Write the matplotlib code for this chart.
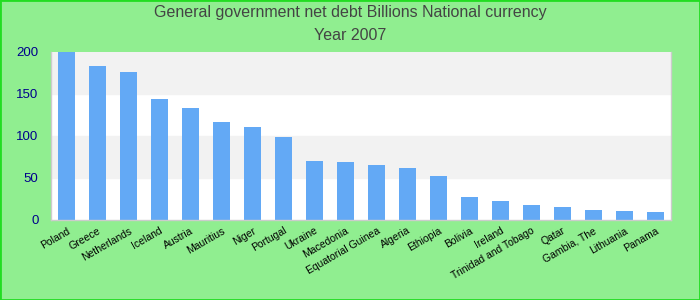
import matplotlib.pyplot as plt
import matplotlib.transforms as mtransforms
import numpy as np

plt.rcParams['font.family'] = ['Liberation Sans', 'DejaVu Sans']

countries = ["Poland", "Greece", "Netherlands", "Iceland", "Austria", "Mauritius",
             "Niger", "Portugal", "Ukraine", "Macedonia", "Equatorial Guinea",
             "Algeria", "Ethiopia", "Bolivia", "Ireland", "Trinidad and Tobago",
             "Qatar", "Gambia, The", "Lithuania", "Panama"]
debt = [199.5, 183, 176, 143.8, 133, 116.4, 110.5, 98.6, 70, 69, 65.5,
        62, 52, 27.4, 22.6, 17.9, 15.5, 11.9, 10.7, 9.5]
yticks = [0, 50, 100, 150, 200]

fig = plt.figure(figsize=(7, 3), dpi=100, facecolor="#90ee90")
ax = fig.add_axes([51/700, 1 - 220/300, 620/700, 168/300])
ax.set_facecolor("white")

# alternating bands
for i in range(len(yticks) - 1):
    if i % 2 == 1:
        ax.axhspan(yticks[i], yticks[i + 1], color="#f2f2f2", zorder=0)

x = np.arange(len(countries))
ax.bar(x, debt, width=0.55, color="#63a9f5", zorder=2)

ax.set_xlim(-0.5, len(countries) - 0.5)
ax.set_ylim(0, 200)
ax.set_yticks(yticks)
ax.set_yticklabels([str(v) for v in yticks], color="#00008b", fontsize=9.5)
ax.set_xticks(x)
ax.set_xticklabels(countries, rotation=30, ha="right", rotation_mode="anchor",
                   fontsize=7.5, color="black")
shift = mtransforms.ScaledTranslation(-4/100, -1/100, fig.dpi_scale_trans)
for lab in ax.get_xticklabels():
    lab.set_transform(lab.get_transform() + shift)
ax.tick_params(length=0)
ax.tick_params(axis="y", pad=9)
ax.tick_params(axis="x", pad=4)
for s in ax.spines.values():
    s.set_color("#cccccc")
    s.set_linewidth(1)
ax.spines["top"].set_visible(False)

fig.text(0.5, 1 - 13/300, "General government net debt Billions National currency",
         ha="center", va="center", fontsize=11.5, color="#444444")
fig.text(0.5, 1 - 36/300, "Year 2007", ha="center", va="center",
         fontsize=11.5, color="#444444")

# border
fig.patches.append(plt.Rectangle((0, 0), 1, 1, transform=fig.transFigure,
                                 fill=False, edgecolor="#22dd22", linewidth=2))

fig.savefig("out.png", dpi=100, facecolor=fig.get_facecolor())
